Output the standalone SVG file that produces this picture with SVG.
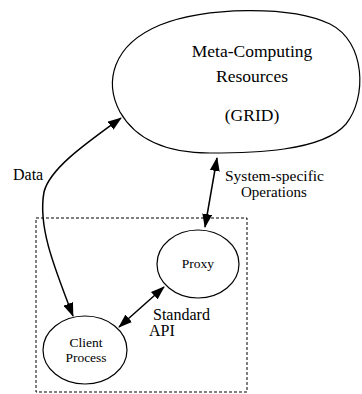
<svg xmlns="http://www.w3.org/2000/svg" width="362" height="394" viewBox="0 0 362 394">
<style>
.n{fill:#fff;stroke:#000;stroke-width:1.2}
.c{fill:none;stroke:#000;stroke-width:1.5}
text{font-family:'Liberation Serif','Times New Roman','DejaVu Serif',serif;fill:#000}
</style>
<defs>
<marker id="ah" viewBox="0 0 14 10" refX="13" refY="5" markerWidth="14" markerHeight="10" markerUnits="userSpaceOnUse" orient="auto-start-reverse">
<path d="M0,0 L14,5 L0,10 Z" fill="#000"/>
</marker>
</defs>
<rect x="36" y="218" width="211" height="174" fill="none" stroke="#000" stroke-width="1" stroke-dasharray="3,2"/>
<g id="grid">
<path class="n" d="M120,112 C104,82 112,45 160,25 C205,7 290,5 330,24 C366,42 367,98 346,124 C322,152 250,153 210,153 C168,153 136,140 120,112 Z"/>
<text x="252" y="57" font-size="17.5" text-anchor="middle">Meta-Computing</text>
<text x="252" y="82" font-size="17.5" text-anchor="middle">Resources</text>
<text x="252" y="121" font-size="17.5" text-anchor="middle">(GRID)</text>
</g>
<g id="proxy">
<ellipse class="n" cx="198" cy="264" rx="41" ry="34"/>
<text x="198" y="268" font-size="13.5" text-anchor="middle">Proxy</text>
</g>
<g id="client">
<ellipse class="n" cx="85" cy="350" rx="42" ry="34"/>
<text x="86" y="347" font-size="13.5" text-anchor="middle">Client</text>
<text x="86" y="362" font-size="13.5" text-anchor="middle">Process</text>
</g>
<g id="connectors">
<path class="c" d="M73,316 C52,262 38,225 44,192 C50,168 88,142 121,118" marker-start="url(#ah)" marker-end="url(#ah)"/>
<path class="c" d="M217,158 L205,227" marker-start="url(#ah)" marker-end="url(#ah)"/>
<path class="c" d="M119,327 L164,287" marker-start="url(#ah)" marker-end="url(#ah)"/>
</g>
<g id="labels">
<text x="13" y="180" font-size="16">Data</text>
<text x="225" y="181" font-size="15.5">System-specific</text>
<text x="241" y="197" font-size="15">Operations</text>
<text x="153" y="320" font-size="16">Standard</text>
<text x="149" y="336" font-size="16">API</text>
</g>
</svg>
